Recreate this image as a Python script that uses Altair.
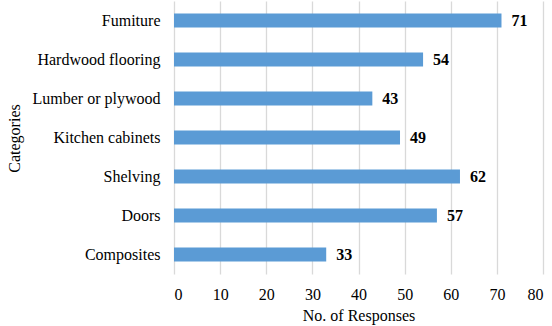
import altair as alt
import pandas as pd

categories = ["Fumiture", "Hardwood flooring", "Lumber or plywood", "Kitchen cabinets",
              "Shelving", "Doors", "Composites"]
responses = [71, 54, 43, 49, 62, 57, 33]
x_ticks = [0, 10, 20, 30, 40, 50, 60, 70, 80]

df = pd.DataFrame({"Category": categories, "Responses": responses})

FONT = "Liberation Serif"
FS = 16

y_enc = alt.Y("Category:N", sort=categories, title="Categories",
              scale=alt.Scale(paddingInner=0.64, paddingOuter=0.32),
              axis=alt.Axis(domain=False, ticks=False, labelPadding=14,
                            labelFont=FONT, labelFontSize=FS, labelColor="black",
                            titleFont=FONT, titleFontSize=FS, titleFontWeight="normal",
                            titleColor="black", titleX=-152, titleY=137,
                            labelLimit=300))
x_enc = alt.X("Responses:Q", title="No. of Responses",
              scale=alt.Scale(domain=[0, 80], nice=False),
              axis=alt.Axis(values=x_ticks, domain=False, ticks=False, grid=True,
                            gridColor="#d9d9d9", gridWidth=1.3, labelPadding=12,
                            labelFont=FONT, labelFontSize=FS, labelColor="black",
                            titleFont=FONT, titleFontSize=FS, titleFontWeight="normal",
                            titleColor="black", titlePadding=5))

bars = alt.Chart(df).mark_bar(color="#5b9bd5").encode(x=x_enc, y=y_enc)
text = alt.Chart(df).mark_text(align="left", dx=10, font=FONT, fontSize=FS,
                               fontWeight="bold", color="black").encode(
    x="Responses:Q", y=alt.Y("Category:N", sort=categories), text="Responses:Q")

chart = (bars + text).properties(
    width=369, height=273,
    autosize=alt.AutoSizeParams(type="none"),
    padding={"left": 174, "top": 1, "right": 9, "bottom": 52},
    background="white",
).configure_view(stroke=None)

chart.save("out.html", embed_options={"renderer": "svg", "actions": False})
